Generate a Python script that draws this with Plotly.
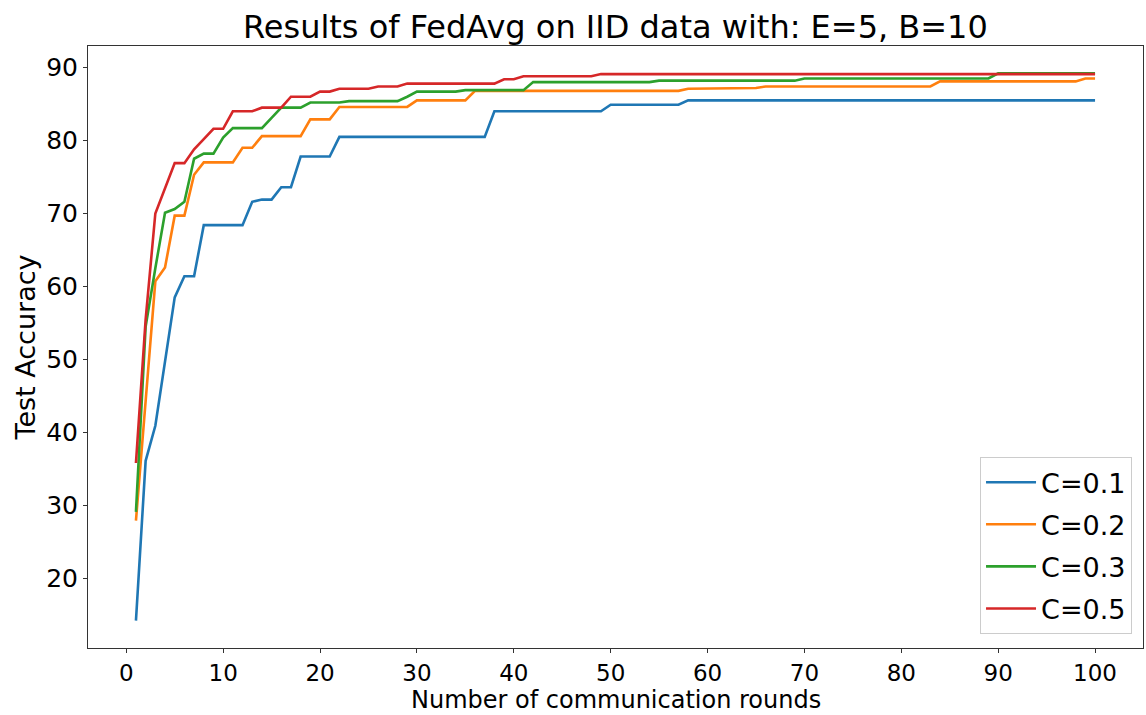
import plotly.graph_objects as go

# Communication rounds 1..100
rounds = list(range(1, 101))

# Test accuracy per round for each client fraction C
acc_c01 = [
    14.2, 36.1, 40.9, 50.0, 58.5, 61.4, 61.4, 68.4, 68.4, 68.4,
    68.4, 68.4, 71.6, 71.9, 71.9, 73.6, 73.6, 77.8, 77.8, 77.8,
    77.8, 80.5, 80.5, 80.5, 80.5, 80.5, 80.5, 80.5, 80.5, 80.5,
    80.5, 80.5, 80.5, 80.5, 80.5, 80.5, 80.5, 84.0, 84.0, 84.0,
    84.0, 84.0, 84.0, 84.0, 84.0, 84.0, 84.0, 84.0, 84.0, 84.9,
    84.9, 84.9, 84.9, 84.9, 84.9, 84.9, 84.9, 85.5, 85.5, 85.5,
    85.5, 85.5, 85.5, 85.5, 85.5, 85.5, 85.5, 85.5, 85.5, 85.5,
    85.5, 85.5, 85.5, 85.5, 85.5, 85.5, 85.5, 85.5, 85.5, 85.5,
    85.5, 85.5, 85.5, 85.5, 85.5, 85.5, 85.5, 85.5, 85.5, 85.5,
    85.5, 85.5, 85.5, 85.5, 85.5, 85.5, 85.5, 85.5, 85.5, 85.5,
]

acc_c02 = [
    27.9, 44.0, 60.7, 62.6, 69.7, 69.7, 75.3, 77.0, 77.0, 77.0,
    77.0, 79.0, 79.0, 80.6, 80.6, 80.6, 80.6, 80.6, 82.9, 82.9,
    82.9, 84.6, 84.6, 84.6, 84.6, 84.6, 84.6, 84.6, 84.6, 85.5,
    85.5, 85.5, 85.5, 85.5, 85.5, 86.8, 86.8, 86.8, 86.8, 86.8,
    86.8, 86.8, 86.8, 86.8, 86.8, 86.8, 86.8, 86.8, 86.8, 86.8,
    86.8, 86.8, 86.8, 86.8, 86.8, 86.8, 86.8, 87.1, 87.1, 87.1,
    87.1, 87.1, 87.1, 87.2, 87.2, 87.4, 87.4, 87.4, 87.4, 87.4,
    87.4, 87.4, 87.4, 87.4, 87.4, 87.4, 87.4, 87.4, 87.4, 87.4,
    87.4, 87.4, 87.4, 88.1, 88.1, 88.1, 88.1, 88.1, 88.1, 88.1,
    88.1, 88.1, 88.1, 88.1, 88.1, 88.1, 88.1, 88.1, 88.5, 88.5,
]

acc_c03 = [
    29.1, 54.5, 62.5, 70.1, 70.6, 71.6, 77.5, 78.2, 78.2, 80.4,
    81.7, 81.7, 81.7, 81.7, 83.1, 84.5, 84.5, 84.5, 85.2, 85.2,
    85.2, 85.2, 85.4, 85.4, 85.4, 85.4, 85.4, 85.4, 86.0, 86.7,
    86.7, 86.7, 86.7, 86.7, 86.9, 86.9, 86.9, 86.9, 86.9, 86.9,
    86.9, 88.0, 88.0, 88.0, 88.0, 88.0, 88.0, 88.0, 88.0, 88.0,
    88.0, 88.0, 88.0, 88.0, 88.2, 88.2, 88.2, 88.2, 88.2, 88.2,
    88.2, 88.2, 88.2, 88.2, 88.2, 88.2, 88.2, 88.2, 88.2, 88.5,
    88.5, 88.5, 88.5, 88.5, 88.5, 88.5, 88.5, 88.5, 88.5, 88.5,
    88.5, 88.5, 88.5, 88.5, 88.5, 88.5, 88.5, 88.5, 88.5, 89.2,
    89.2, 89.2, 89.2, 89.2, 89.2, 89.2, 89.2, 89.2, 89.2, 89.2,
]

acc_c05 = [
    35.8, 55.5, 70.0, 73.5, 76.9, 76.9, 78.8, 80.2, 81.6, 81.6,
    84.0, 84.0, 84.0, 84.5, 84.5, 84.5, 86.0, 86.0, 86.0, 86.7,
    86.7, 87.1, 87.1, 87.1, 87.1, 87.4, 87.4, 87.4, 87.8, 87.8,
    87.8, 87.8, 87.8, 87.8, 87.8, 87.8, 87.8, 87.8, 88.4, 88.4,
    88.8, 88.8, 88.8, 88.8, 88.8, 88.8, 88.8, 88.8, 89.1, 89.1,
    89.1, 89.1, 89.1, 89.1, 89.1, 89.1, 89.1, 89.1, 89.1, 89.1,
    89.1, 89.1, 89.1, 89.1, 89.1, 89.1, 89.1, 89.1, 89.1, 89.1,
    89.1, 89.1, 89.1, 89.1, 89.1, 89.1, 89.1, 89.1, 89.1, 89.1,
    89.1, 89.1, 89.1, 89.1, 89.1, 89.1, 89.1, 89.1, 89.1, 89.1,
    89.1, 89.1, 89.1, 89.1, 89.1, 89.1, 89.1, 89.1, 89.1, 89.1,
]

series_names = ["C=0.1", "C=0.2", "C=0.3", "C=0.5"]
series_values = [acc_c01, acc_c02, acc_c03, acc_c05]
series_colors = ["#1f77b4", "#ff7f0e", "#2ca02c", "#d62728"]

x_ticks = list(range(0, 101, 10))
y_ticks = list(range(20, 91, 10))

FONT = "DejaVu Sans"

fig = go.Figure()
for name, vals, color in zip(series_names, series_values, series_colors):
    fig.add_trace(go.Scatter(
        x=rounds, y=vals, mode="lines", name=name, legendgroup=name,
        line=dict(color=color, width=2.6),
    ))

axis_common = dict(
    showgrid=False, zeroline=False, automargin=False,
    showline=True, linecolor="#333333", linewidth=1, mirror=True,
    ticks="outside", ticklen=4, tickcolor="#333333", tickwidth=1,
)

fig.update_layout(
    width=1146, height=715,
    margin=dict(l=88, r=3, t=46, b=67),
    paper_bgcolor="white", plot_bgcolor="white",
    title=dict(
        text="Results of FedAvg on IID data with: E=5, B=10",
        x=0.537, xanchor="center", y=0.962, yanchor="middle",
        font=dict(family=FONT, size=32, color="black"),
    ),
    xaxis=dict(
        range=[-3.95, 104.95], tickvals=x_ticks,
        tickfont=dict(family=FONT, size=23, color="black"),
        **axis_common,
    ),
    yaxis=dict(
        range=[10.45, 92.95], tickvals=y_ticks,
        tickfont=dict(family=FONT, size=25, color="black"),
        title=dict(text="Test Accuracy", standoff=2,
                   font=dict(family=FONT, size=27, color="black")),
        **axis_common,
    ),
    legend=dict(
        x=0.9896, xanchor="right", y=0.023, yanchor="bottom",
        bgcolor="white", bordercolor="#cccccc", borderwidth=1,
        font=dict(family=FONT, size=27, color="black"),
        tracegroupgap=4, itemwidth=50,
    ),
    showlegend=True,
)

# x-axis title placed just under the tick labels
fig.add_annotation(
    text="Number of communication rounds",
    xref="paper", yref="paper", x=0.5, y=-0.1113,
    xanchor="center", yanchor="bottom", showarrow=False,
    yshift=0, borderpad=0,
    font=dict(family=FONT, size=24, color="black"),
)

fig.write_html("out.html")
